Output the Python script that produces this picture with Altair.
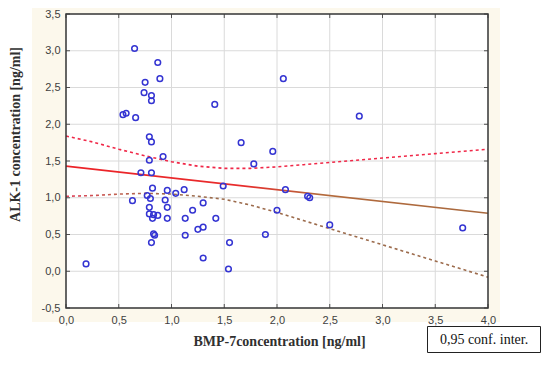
import altair as alt
import pandas as pd

# ---- data ----
pt_x = [0.65, 0.87, 0.89, 0.75, 0.74, 0.81, 0.81, 0.54, 0.57, 0.66,
        1.41, 2.06, 2.78, 0.79, 0.81, 1.66, 1.96, 0.92, 1.78, 0.79,
        0.71, 0.81, 0.82, 0.96, 1.04, 1.12, 1.49, 2.08, 2.29, 2.31,
        0.77, 0.80, 0.63, 0.94, 0.79, 0.96, 1.30, 1.20, 2.00, 0.79,
        0.83, 0.87, 0.82, 0.96, 1.13, 1.42, 1.25, 1.30, 0.83, 0.84,
        1.13, 1.89, 0.81, 1.55, 1.30, 0.19, 1.54, 2.50, 3.76]
pt_y = [3.03, 2.84, 2.62, 2.57, 2.43, 2.39, 2.32, 2.13, 2.15, 2.09,
        2.27, 2.62, 2.11, 1.83, 1.76, 1.75, 1.63, 1.56, 1.46, 1.51,
        1.34, 1.34, 1.13, 1.10, 1.06, 1.11, 1.16, 1.11, 1.02, 1.00,
        1.03, 0.99, 0.96, 0.97, 0.87, 0.87, 0.93, 0.83, 0.83, 0.78,
        0.77, 0.76, 0.72, 0.72, 0.72, 0.72, 0.57, 0.60, 0.51, 0.49,
        0.49, 0.50, 0.39, 0.39, 0.18, 0.10, 0.03, 0.63, 0.59]

band_x = [0.0, 0.25, 0.5, 0.75, 1.0, 1.25, 1.5, 1.75, 2.0, 2.25, 2.5,
          2.75, 3.0, 3.25, 3.5, 3.75, 4.0]
band_upper = [1.84, 1.76, 1.66, 1.57, 1.49, 1.43, 1.40, 1.40, 1.42, 1.45,
              1.48, 1.51, 1.54, 1.57, 1.60, 1.63, 1.66]
band_lower = [1.02, 1.03, 1.05, 1.06, 1.05, 1.02, 0.98, 0.90, 0.80, 0.69,
              0.58, 0.47, 0.36, 0.25, 0.14, 0.03, -0.08]

fit_x = [0.0, 4.0]
fit_y = [1.43, 0.79]

x_ticks = [0.0, 0.5, 1.0, 1.5, 2.0, 2.5, 3.0, 3.5, 4.0]
y_ticks = [-0.5, 0.0, 0.5, 1.0, 1.5, 2.0, 2.5, 3.0, 3.5]

x_title = "BMP-7concentration [ng/ml]"
y_title = "ALK-1 concentration [ng/ml]"
legend_label = ["0,95 conf. inter."]

# ---- layout ----
W, H = 422, 294

pts = pd.DataFrame({"x": pt_x, "y": pt_y})
band = pd.DataFrame({"x": band_x, "upper": band_upper, "lower": band_lower})
fit = pd.DataFrame({"x": fit_x, "y": fit_y})
xt = pd.DataFrame({"x": x_ticks})
yt = pd.DataFrame({"y": y_ticks})
one = pd.DataFrame({"a": [0]})
leg = pd.DataFrame({"t": legend_label})

xs = alt.Scale(domain=[0, 4], nice=False, zero=False)
ys = alt.Scale(domain=[-0.5, 3.5], nice=False, zero=False)
lab = "replace(replace(format(datum.value, '.1f'), '.', ','), '\u2212', '-')"

xaxis = alt.Axis(values=x_ticks, grid=False, ticks=False, domain=False,
                 labelExpr=lab, labelFont="Liberation Sans", labelFontSize=11,
                 labelColor="#404040", labelPadding=6, labelFlush=False,
                 labelOverlap=False,
                 title=x_title, titleFont="Liberation Serif", titleFontSize=14,
                 titleFontWeight="bold", titleColor="#303030",
                 titleX=213, titleY=33, titleAlign="center",
                 titleBaseline="middle", zindex=1)
yaxis = alt.Axis(values=y_ticks, grid=False, ticks=False, domain=False,
                 labelExpr=lab, labelFont="Liberation Sans", labelFontSize=11,
                 labelColor="#404040", labelPadding=6, labelOverlap=False,
                 labelFlush=False,
                 title=y_title, titleFont="Liberation Serif", titleFontSize=14,
                 titleFontWeight="bold", titleColor="#303030",
                 titleX=-51, titleY=120, titleAlign="center",
                 titleBaseline="middle", titleAngle=270, zindex=1)


def X(f):
    return alt.X(f, type="quantitative", scale=xs, axis=xaxis)


def Y(f):
    return alt.Y(f, type="quantitative", scale=ys, axis=yaxis)


cream = alt.Chart(one).mark_rect(color="#fcf8ec").encode(
    x=alt.value(-34), x2=alt.value(434), y=alt.value(-16), y2=alt.value(308))
white = alt.Chart(one).mark_rect(color="white").encode(
    x=alt.value(0), x2=alt.value(W), y=alt.value(0), y2=alt.value(H))

gx = alt.Chart(xt).mark_rule(color="#dadada", strokeWidth=1).encode(x=X("x"))
gy = alt.Chart(yt).mark_rule(color="#dadada", strokeWidth=1).encode(y=Y("y"))

tick_col = "#505050"
tx_top = alt.Chart(xt).mark_rule(color=tick_col).encode(
    x=X("x"), y=alt.value(0), y2=alt.value(4))
tx_bot = alt.Chart(xt).mark_rule(color=tick_col).encode(
    x=X("x"), y=alt.value(H - 4), y2=alt.value(H))
ty_left = alt.Chart(yt).mark_rule(color=tick_col).encode(
    y=Y("y"), x=alt.value(0), x2=alt.value(4))
ty_right = alt.Chart(yt).mark_rule(color=tick_col).encode(
    y=Y("y"), x=alt.value(W - 4), x2=alt.value(W))

fit_grad = alt.LinearGradient(
    gradient="linear", x1=0, x2=1, y1=0, y2=0,
    stops=[alt.GradientStop(offset=0, color="#ec2228"),
           alt.GradientStop(offset=0.42, color="#e82c2c"),
           alt.GradientStop(offset=0.6, color="#b46a3c"),
           alt.GradientStop(offset=1, color="#a8693e")])
low_grad = alt.LinearGradient(
    gradient="linear", x1=0, x2=1, y1=0, y2=0,
    stops=[alt.GradientStop(offset=0, color="#e0405a"),
           alt.GradientStop(offset=0.12, color="#c06050"),
           alt.GradientStop(offset=0.25, color="#9c6b4c"),
           alt.GradientStop(offset=1, color="#9c6b4c")])

upper = alt.Chart(band).mark_line(color="#f02848", strokeWidth=1.6,
                                  strokeDash=[3, 3]).encode(
    x=X("x"), y=Y("upper"))
lower = alt.Chart(band).mark_line(stroke=low_grad, strokeWidth=1.6,
                                  strokeDash=[3, 3]).encode(
    x=X("x"), y=Y("lower"))
fitline = alt.Chart(fit).mark_line(stroke=fit_grad, strokeWidth=1.6).encode(
    x=X("x"), y=Y("y"))

points = alt.Chart(pts).mark_point(shape="circle", filled=False, size=32,
                                   strokeWidth=1.5, color="#3434d2",
                                   opacity=1).encode(x=X("x"), y=Y("y"))

frame = alt.Chart(one).mark_rect(fillOpacity=0, stroke="#3a3a3a",
                                 strokeWidth=1.5).encode(
    x=alt.value(0), x2=alt.value(W), y=alt.value(0), y2=alt.value(H))

legbox = alt.Chart(one).mark_rect(fill="white", stroke="#222222",
                                  strokeWidth=1).encode(
    x=alt.value(361.5), x2=alt.value(474.5), y=alt.value(312.5),
    y2=alt.value(338.5))
legtext = alt.Chart(leg).mark_text(font="Liberation Serif", fontSize=14,
                                   color="#111111", align="center",
                                   baseline="middle").encode(
    x=alt.value(418), y=alt.value(325.5), text="t:N")

chart = alt.layer(cream, white, gx, gy, upper, lower, fitline, points,
                  tx_top, tx_bot, ty_left, ty_right, frame, legbox, legtext
                  ).properties(
    width=W, height=H,
    autosize=alt.AutoSizeParams(type="none"),
    padding={"left": 58, "top": 6, "right": 54, "bottom": 46},
    background="white",
).configure_view(stroke=None)

chart.save("out.html", embed_options={"renderer": "svg", "actions": False})
